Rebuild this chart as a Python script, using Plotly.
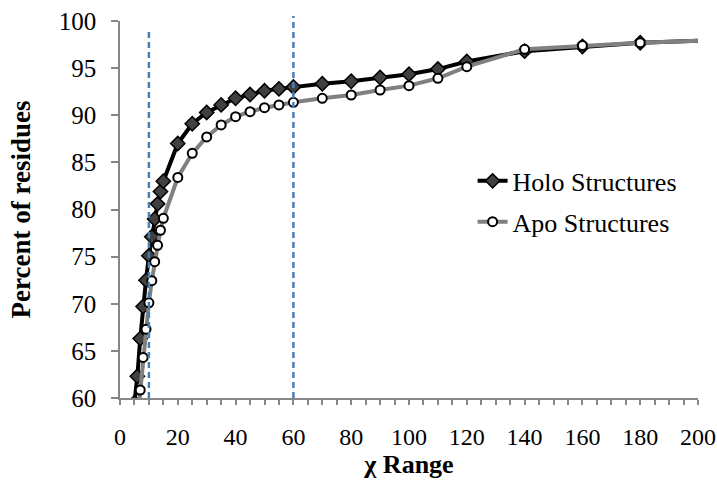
import plotly.graph_objects as go

# Cumulative percent of residues within a given chi range
holo_x = [5, 6, 7, 8, 9, 10, 11, 12, 13, 14, 15, 20, 25, 30, 35, 40, 45, 50, 55, 60,
          70, 80, 90, 100, 110, 120, 140, 160, 180, 220]
holo_y = [59.5, 62.3, 66.3, 69.7, 72.5, 75.1, 77.1, 79.0, 80.6, 81.9, 83.0, 87.0, 89.1,
          90.3, 91.1, 91.8, 92.2, 92.6, 92.8, 93.0, 93.35, 93.6, 94.0, 94.35, 94.9, 95.7,
          96.8, 97.3, 97.7, 98.1]

apo_x = [6, 7, 8, 9, 10, 11, 12, 13, 14, 15, 20, 25, 30, 35, 40, 45, 50, 55, 60,
         70, 80, 90, 100, 110, 120, 140, 160, 180, 220]
apo_y = [57.5, 60.85, 64.3, 67.3, 70.1, 72.45, 74.46, 76.2, 77.8, 79.07, 83.4, 85.96,
         87.7, 88.97, 89.85, 90.38, 90.8, 91.09, 91.37, 91.8, 92.15, 92.68, 93.14, 93.92,
         95.15, 97.0, 97.4, 97.7, 98.1]

# chi cut-offs marked with dashed guide lines
cutoffs = [10, 60]
cutoff_tops = [0.981, 1.013]

FONT = "Liberation Serif, Times New Roman, serif"
AXIS_GRAY = "#868686"

fig = go.Figure()
fig.add_trace(go.Scatter(
    x=holo_x, y=holo_y, mode="lines+markers", name="Holo Structures",
    legendgroup="holo",
    line=dict(color="black", width=4),
    marker=dict(symbol="diamond", size=11, color="#404040",
                line=dict(color="black", width=1.5)),
))
fig.add_trace(go.Scatter(
    x=apo_x, y=apo_y, mode="lines+markers", name="Apo Structures",
    legendgroup="apo",
    line=dict(color="#808080", width=4),
    marker=dict(symbol="circle", size=9, color="white",
                line=dict(color="black", width=2)),
))

for cx, top in zip(cutoffs, cutoff_tops):
    fig.add_shape(type="line", xref="x", yref="paper", x0=cx, x1=cx, y0=0, y1=top,
                  line=dict(color="#4a7ebb", width=2.5, dash="6px,4px"), layer="above")

fig.update_layout(
    width=717, height=480,
    margin=dict(l=120, r=19, t=21, b=82),
    paper_bgcolor="white", plot_bgcolor="white",
    font=dict(family=FONT, size=25, color="black"),
    showlegend=True,
    legend=dict(x=0.61, y=0.638, xanchor="left", yanchor="top",
                font=dict(family=FONT, size=26, color="black"),
                bgcolor="rgba(0,0,0,0)", traceorder="grouped", tracegroupgap=4),
    xaxis=dict(
        range=[0, 200], dtick=20, tick0=0, automargin=False,
        showgrid=False, zeroline=False,
        showline=True, linecolor=AXIS_GRAY, linewidth=1.5,
        ticks="outside", ticklen=5, tickcolor=AXIS_GRAY, tickwidth=1.5,
        minor=dict(dtick=5, ticks="outside", ticklen=5, tickcolor=AXIS_GRAY,
                   tickwidth=1.5, showgrid=False),
        ticklabelstandoff=11, ticklabeloverflow="allow",
        tickfont=dict(family=FONT, size=24, color="black"),
        title=dict(text="<b>χ Range</b>",
                   font=dict(family=FONT, size=26, color="black"), standoff=2),
    ),
    yaxis=dict(
        range=[60, 100], dtick=5, tick0=60, automargin=False,
        showgrid=False, zeroline=False,
        showline=True, linecolor=AXIS_GRAY, linewidth=1.5,
        ticks="outside", ticklen=7, tickcolor=AXIS_GRAY, tickwidth=1.5,
        ticklabelstandoff=10,
        tickfont=dict(family=FONT, size=25, color="black"),
        title=dict(text="<b>Percent of residues</b>",
                   font=dict(family=FONT, size=27, color="black"), standoff=20),
    ),
)

fig.write_html("out.html")
